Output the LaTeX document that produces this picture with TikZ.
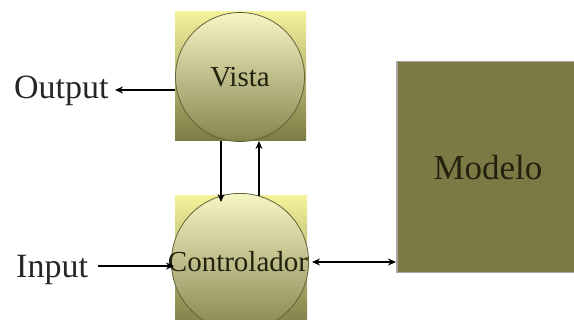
\documentclass[tikz,border=0pt]{standalone}
\usepackage{fontspec}
\setmainfont{Liberation Serif}
\usetikzlibrary{arrows.meta}
\definecolor{olive1}{HTML}{7B7A45}
\definecolor{yel1}{HTML}{F4F29A}
\definecolor{yel2}{HTML}{F6F5C4}
\definecolor{oliv2}{HTML}{868650}
\definecolor{txt}{HTML}{22220E}
\begin{document}
\begin{tikzpicture}[x=1pt,y=-1pt,
  sq/.style={top color=yel1, bottom color=olive1, draw=none},
  circ/.style={circle, minimum size=129pt, inner sep=0pt, top color=yel2, bottom color=oliv2, draw=olive1!80!black, line width=0.8pt, font=\fontsize{29}{30}\selectfont, text=txt},
  lbl/.style={font=\fontsize{34}{36}\selectfont, text=black!85, inner sep=0pt},
  arr/.style={line width=2.2pt, -{Stealth[length=8pt,width=7pt]}},
  darr/.style={line width=2.2pt, {Stealth[length=8pt,width=7pt]}-{Stealth[length=8pt,width=7pt]}}]
\useasboundingbox (0,0) rectangle (574,320);
% squares behind the circles
\shade[sq] (175,12) rectangle (306,141);
\shade[sq] (175,196) rectangle (307,330);
\node[circ] (vista) at (240,77) {Vista};
\node[circ] (ctrl) at (240,262) {\hspace*{-4pt}Controlador};
% model
\node[draw=black!35, fill=olive1, line width=1.5pt, minimum width=180pt, minimum height=211pt, inner sep=0pt, anchor=north west] (modelo) at (396,61) {};
\node[font=\fontsize{35}{37}\selectfont, text=txt] (modtxt) at (488,168) {Modelo};
% labels
\node[lbl, anchor=west] (out) at (14,91) {Output};
\node[lbl, anchor=west] (in) at (16,270) {Input};
% connectors
\coordinate (vb1) at (221,141);
\coordinate (ct1) at (221,202);
\coordinate (vb2) at (259,141);
\coordinate (ct2) at (259,196);
\coordinate (outend) at (115,90);
\coordinate (instart) at (98,266);
\draw[arr] (vb1) -- (ct1);
\draw[arr] (ct2) -- (vb2);
\draw[arr] (vista.west |- outend) -- (outend);
\draw[arr] (instart) -- (174,266);
\draw[darr] (312,262) -- (modelo.west |- 0,262);
\end{tikzpicture}
\end{document}
